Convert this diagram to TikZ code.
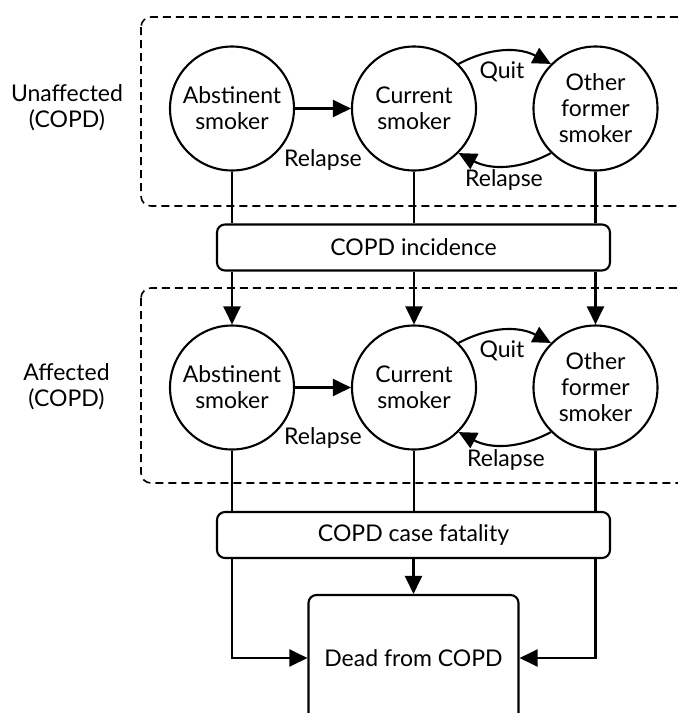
\documentclass[tikz,border=0pt]{standalone}
\usepackage{fontspec}
\setmainfont{Lato}
\usetikzlibrary{arrows.meta}
\begin{document}
\begin{tikzpicture}[x=1pt,y=1pt,
  font=\fontsize{23}{26}\selectfont,
  line width=2.1pt,
  >={Triangle[length=18pt,width=17pt]},
  state/.style={circle,draw,minimum size=124pt,inner sep=0pt,align=center},
  bar/.style={draw,rounded corners=8pt,minimum width=393pt,minimum height=46pt,inner sep=0pt},
  group/.style={draw,dash pattern=on 8pt off 5pt,rounded corners=10pt,line width=1.6pt},
  lbl/.style={inner sep=0pt,align=center}]

\useasboundingbox (0,0) rectangle (678,-713);
\clip (0,0) rectangle (678,-713);

% dashed group frames
\draw[group] (141,-17) rectangle (700,-206);
\draw[group] (141,-288) rectangle (700,-483);

% group captions
\node[lbl] (capU) at (67,-108) {Unaffected\\(COPD)};
\node[lbl] (capA) at (66.5,-387) {Affected\\(COPD)};

% unaffected states
\node[state] (ua) at (232,-108.5) {Abstinent\\smoker};
\node[state] (uc) at (414,-108.5) {Current\\smoker};
\node[state] (uo) at (595.5,-108.5) {Other\\former\\smoker};

% incidence bar
\node[bar] (inc) at (413.5,-247.5) {COPD incidence};

% affected states
\node[state] (aa) at (232,-387.5) {Abstinent\\smoker};
\node[state] (ac) at (414,-387.5) {Current\\smoker};
\node[state] (ao) at (595.5,-387.5) {Other\\former\\smoker};

% fatality bar and final state
\node[bar] (fat) at (413.5,-535) {COPD case fatality};
\node[draw,rounded corners=8pt,minimum width=210pt,minimum height=126pt,inner sep=0pt] (dead) at (413.5,-658) {Dead from COPD};

% transitions among unaffected states
\draw[->] (ua) -- (uc);
\draw[->] (uc.45) to[out=28,in=152] (uo.135);
\draw[->] (uo.225) to[out=-152,in=-28] (uc.315);
\node[lbl] (r1) at (323,-160) {Relapse};
\node[lbl] (q1) at (502,-72) {Quit};
\node[lbl] (r2) at (504,-180) {Relapse};

% transitions among affected states
\draw[->] (aa) -- (ac);
\draw[->] (ac.45) to[out=28,in=152] (ao.135);
\draw[->] (ao.225) to[out=-152,in=-28] (ac.315);
\node[lbl] (r3) at (323,-438) {Relapse};
\node[lbl] (q2) at (502,-351) {Quit};
\node[lbl] (r4) at (506,-460) {Relapse};

% incidence flows
\foreach \u/\a in {ua/aa,uc/ac,uo/ao}{
  \draw (\u) -- (\u |- inc.north);
  \draw[->] (\u |- inc.south) -- (\a);
}

% fatality flows
\draw (aa) -- (aa |- fat.north);
\draw (ac) -- (ac |- fat.north);
\draw (ao) -- (ao |- fat.north);
\draw[->] (aa |- fat.south) |- (dead);
\draw[->] (ao |- fat.south) |- (dead);
\draw[->] (fat) -- (dead);
\end{tikzpicture}
\end{document}
